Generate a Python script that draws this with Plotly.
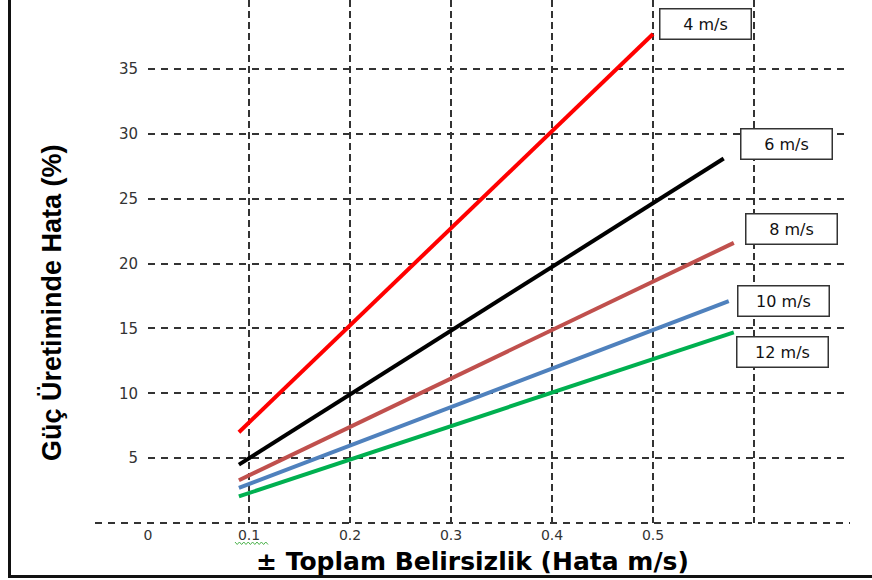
import plotly.graph_objects as go

# ---- data ----
speeds = ["4 m/s", "6 m/s", "8 m/s", "10 m/s", "12 m/s"]
colors = ["#FF0000", "#000000", "#C0504D", "#4F81BD", "#00B050"]
x_start = [0.09, 0.09, 0.09, 0.09, 0.09]
x_end = [0.50, 0.57, 0.58, 0.575, 0.58]
err_start = [7.0, 4.5, 3.3, 2.7, 2.05]
err_end = [37.7, 28.1, 21.6, 17.1, 14.7]

x_tickvals = [0, 0.1, 0.2, 0.3, 0.4, 0.5, 0.6]
x_ticktext = ["0", "0.1", "0.2", "0.3", "0.4", "0.5", ""]
y_tickvals = [5, 10, 15, 20, 25, 30, 35]
y_ticktext = ["5", "10", "15", "20", "25", "30", "35"]

# label box positions (data coordinates of box centres)
label_x = [0.5515, 0.632, 0.637, 0.629, 0.628]
label_y = [38.5, 29.26, 22.63, 17.15, 13.18]

W, H = 872, 580
ML, MR, MT, MB = 148, 22, 0, 57
PW, PH = W - ML - MR, H - MT - MB


def px(p):
    return (p - ML) / PW


def py(p):
    return (H - MB - p) / PH


fig = go.Figure()
for name, c, xs, xe, ys, ye in zip(speeds, colors, x_start, x_end, err_start, err_end):
    fig.add_trace(go.Scatter(x=[xs, xe], y=[ys, ye], mode="lines", name=name,
                             line=dict(color=c, width=4), showlegend=False,
                             cliponaxis=False))

for name, lx, ly in zip(speeds, label_x, label_y):
    fig.add_annotation(x=lx, y=ly, xref="x", yref="y", text=name, showarrow=False,
                       font=dict(family="DejaVu Sans", size=16, color="#111"),
                       bgcolor="white", bordercolor="#333", borderwidth=1.5,
                       width=90, height=29, borderpad=0, align="center")

# axis titles
fig.add_annotation(x=px(52), y=py(302), xref="paper", yref="paper",
                   text="<b>Güç Üretiminde Hata (%)</b>", textangle=-90, showarrow=False,
                   font=dict(family="Liberation Sans", size=27, color="#000"),
                   xanchor="center", yanchor="middle")
fig.add_annotation(x=px(472), y=py(561), xref="paper", yref="paper",
                   text="<b>± Toplam Belirsizlik (Hata m/s)</b>", showarrow=False,
                   font=dict(family="DejaVu Sans", size=25, color="#000"),
                   xanchor="center", yanchor="middle")

# bottom dashed axis line (extends to the left of the grid)
fig.add_shape(type="line", xref="paper", yref="paper", x0=px(95), x1=px(850), y0=0, y1=0,
              line=dict(color="#333", width=2, dash="7px,6px"))
# frame (left and bottom)
fig.add_shape(type="line", xref="paper", yref="paper", x0=px(9.5), x1=px(9.5), y0=py(-2), y1=py(577.5),
              line=dict(color="#111", width=3))
fig.add_shape(type="line", xref="paper", yref="paper", x0=px(8), x1=px(874), y0=py(576.5), y1=py(576.5),
              line=dict(color="#111", width=3))

# spell-check wavy underline under "0.1"
zz = []
xx = 235.0
k = 0
while xx <= 268:
    yv = 542 if k % 2 == 0 else 544.5
    zz.append(("M" if k == 0 else "L") + f" {px(xx):.5f} {py(yv):.5f}")
    xx += 2.2
    k += 1
fig.add_shape(type="path", xref="paper", yref="paper", path=" ".join(zz),
              line=dict(color="#4CB34C", width=1))

fig.update_xaxes(range=[0, (850 - ML) / 1010], tickvals=x_tickvals, ticktext=x_ticktext,
                 showgrid=True, gridcolor="#333", gridwidth=2, griddash="7px,4px",
                 zeroline=False, showline=False, ticks="", ticklabelstandoff=2,
                 tickfont=dict(family="DejaVu Sans", size=14, color="#333"))
fig.update_yaxes(range=[0, 523 / 12.97], tickvals=y_tickvals, ticktext=y_ticktext,
                 showgrid=True, gridcolor="#333", gridwidth=2, griddash="7px,6px",
                 zeroline=False, showline=False, ticks="", ticklabelstandoff=9,
                 tickfont=dict(family="DejaVu Sans", size=15, color="#333"))

fig.update_layout(width=W, height=H, margin=dict(l=ML, r=MR, t=MT, b=MB, pad=0),
                  plot_bgcolor="white", paper_bgcolor="white", showlegend=False)

fig.write_html("out.html", config={"displayModeBar": False},
               post_script="document.body.style.margin='0';document.body.style.overflow='hidden';")
